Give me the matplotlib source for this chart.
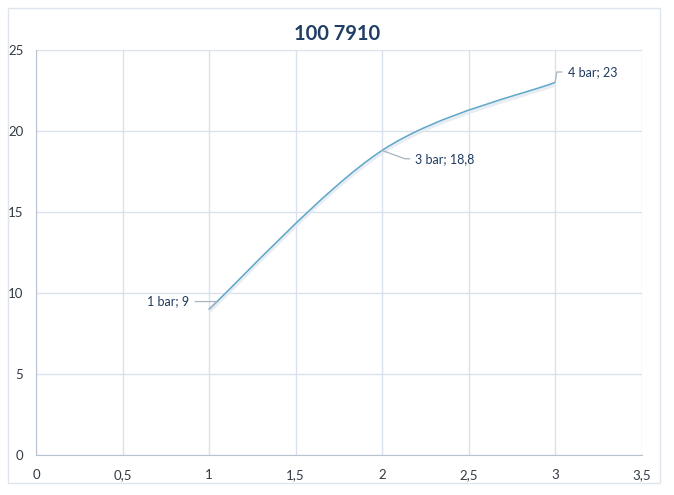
import matplotlib
matplotlib.use("Agg")
import matplotlib.pyplot as plt
from matplotlib.path import Path
from matplotlib.patches import PathPatch, Rectangle
import numpy as np

title = "100 7910"
x_vals = [1, 2, 3]
y_vals = [9, 18.8, 23]
labels = ["1 bar; 9", "3 bar; 18,8", "4 bar; 23"]
x_ticks = [0, 0.5, 1, 1.5, 2, 2.5, 3, 3.5]
x_tick_labels = ["0", "0,5", "1", "1,5", "2", "2,5", "3", "3,5"]
y_ticks = [0, 5, 10, 15, 20, 25]

plt.rcParams['font.family'] = ['Lato', 'DejaVu Sans']

fig = plt.figure(figsize=(6.74, 4.95), dpi=100)
fig.patch.set_facecolor('white')
# outer chart frame
fig.patches.append(Rectangle((8/674, 12/495), 652/674, 475/495, transform=fig.transFigure,
                             fill=False, edgecolor='#dfe5ec', linewidth=1.0))

ax = fig.add_axes([36/674, 40/495, 605.5/674, 405/495])
ax.set_xlim(0, 3.5)
ax.set_ylim(0, 25)

grid_c = '#d9e2ec'
ax.set_xticks(x_ticks)
ax.set_xticklabels(x_tick_labels)
ax.set_yticks(y_ticks)
ax.grid(True, color=grid_c, linewidth=1.0)
ax.set_axisbelow(True)
for s in ['top', 'right']:
    ax.spines[s].set_visible(False)
ax.spines['left'].set_color('#b7c3d1')
ax.spines['bottom'].set_color('#b7c3d1')
ax.tick_params(length=0, colors='#333a44', labelsize=9.5)
ax.tick_params(axis='x', pad=10)
ax.tick_params(axis='y', pad=9)

# smoothed line (Excel-like Bezier through the data points)
P = np.column_stack([x_vals, y_vals]).astype(float)
n = len(P)
verts = [tuple(P[0])]
codes = [Path.MOVETO]
for i in range(n - 1):
    prev = P[i - 1] if i > 0 else P[i]
    nxt = P[i + 2] if i + 2 < n else P[i + 1]
    c1 = P[i] + (P[i + 1] - prev) / 6.0
    c2 = P[i + 1] - (nxt - P[i]) / 6.0
    verts += [tuple(c1), tuple(c2), tuple(P[i + 1])]
    codes += [Path.CURVE4] * 3
path = Path(verts, codes)
shadow = PathPatch(path, fill=False, edgecolor='#e3e9f0', linewidth=3.0, alpha=0.8,
                   transform=ax.transData + matplotlib.transforms.ScaledTranslation(0, -2/100, fig.dpi_scale_trans))
ax.add_patch(shadow)
ax.add_patch(PathPatch(path, fill=False, edgecolor='#5fa8c8', linewidth=1.1))

lab_c = '#1f3a5f'
lead_c = '#a8b4c0'
fs = 9
# label 1
ax.annotate(labels[0], xy=(x_vals[0], y_vals[0]), xytext=(-14, 5.5), textcoords='offset points',
            ha='right', va='center', fontsize=fs, color=lab_c,
            arrowprops=dict(arrowstyle='-', color=lead_c, lw=0.9,
                            connectionstyle='angle,angleA=0,angleB=45,rad=0', shrinkA=2, shrinkB=0))
# label 2
ax.annotate(labels[1], xy=(x_vals[1], y_vals[1]), xytext=(24, -6), textcoords='offset points',
            ha='left', va='center', fontsize=fs, color=lab_c,
            arrowprops=dict(arrowstyle='-', color=lead_c, lw=0.9,
                            connectionstyle='angle,angleA=0,angleB=-20,rad=0', shrinkA=2, shrinkB=0))
# label 3
ax.annotate(labels[2], xy=(x_vals[2], y_vals[2]), xytext=(9, 7.5), textcoords='offset points',
            ha='left', va='center', fontsize=fs, color=lab_c,
            arrowprops=dict(arrowstyle='-', color=lead_c, lw=0.9,
                            connectionstyle='angle,angleA=0,angleB=80,rad=0', shrinkA=2, shrinkB=0))

fig.text(0.5, 1 - 34/495, title, ha='center', va='center', fontsize=14.5, fontweight='bold',
         color='#1f3e66')

fig.savefig('out.png', dpi=100, facecolor='white')
